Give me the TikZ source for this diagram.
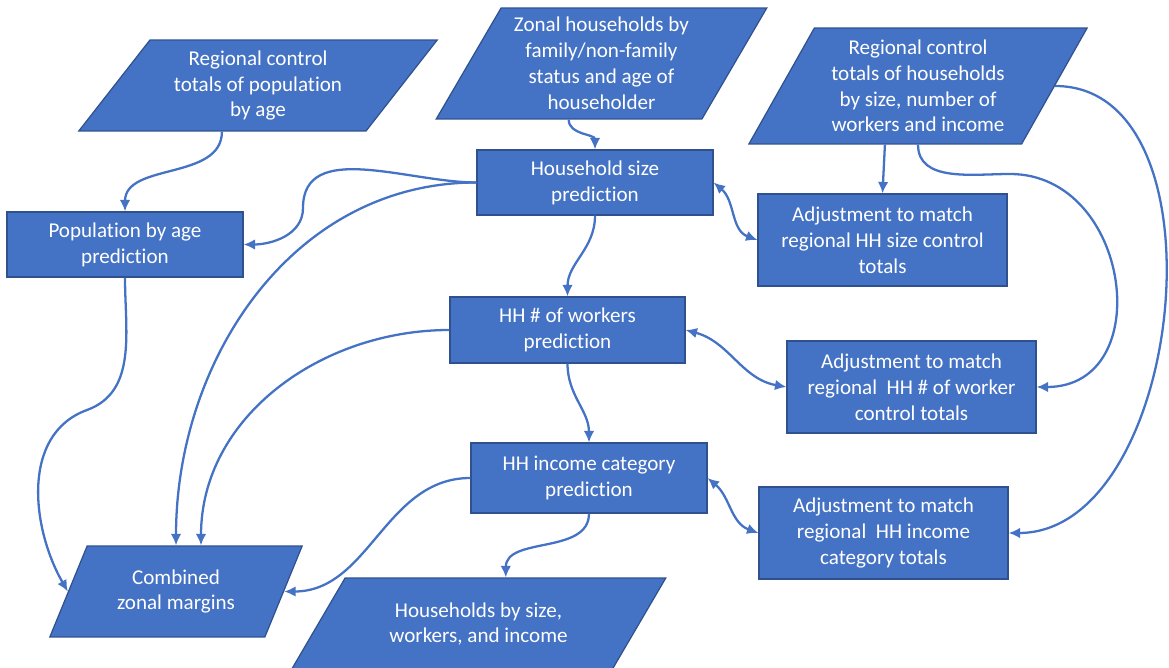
\documentclass[tikz,border=0pt]{standalone}
\usepackage{fontspec}
\setmainfont{Carlito}[Ligatures=NoCommon]
\usepackage{tikz}
\usetikzlibrary{arrows.meta}
\usetikzlibrary{shapes.geometric}
\definecolor{boxblue}{HTML}{4472C4}
\definecolor{rimblue}{HTML}{2F528F}
\tikzset{
	step box/.style={rectangle, draw=rimblue, fill=boxblue, text=white, align=center, inner sep=0pt, line width=0.7pt},
	data box/.style={trapezium, trapezium stretches=true, draw=rimblue, fill=boxblue, text=white, align=center, inner sep=0pt, line width=0.7pt},
	flow/.style={draw=boxblue, line width=1.3pt, ->, >={Latex[length=6.5pt, width=6pt]}},
}
\begin{document}
\begin{tikzpicture}[x=0.02cm, y=-0.02cm, font=\fontsize{12}{14.7}\selectfont]
\useasboundingbox (0, 0) rectangle (1169, 668);
% inputs and outputs
\node[data box, trapezium left angle=51.6, trapezium right angle=128.4, minimum width=7.18cm, minimum height=1.82cm] (regpop) at (258, 85.5) {Regional control\\totals of population\\by age};
\node[data box, trapezium left angle=58.5, trapezium right angle=121.5, minimum width=6.62cm, minimum height=2.22cm] (zonal) at (601.5, 63.5) {Zonal households by\\family/non-family\\status and age of\\householder};
\node[data box, trapezium left angle=59.3, trapezium right angle=120.7, minimum width=6.78cm, minimum height=2.32cm] (reghh) at (918, 86) {Regional control\\totals of households\\by size, number of\\workers and income};
\node[data box, trapezium left angle=60.7, trapezium right angle=119.3, minimum width=5.1cm, minimum height=1.82cm] (comb) at (176, 591.5) {Combined\\zonal margins};
\node[data box, trapezium left angle=50.2, trapezium right angle=129.8, minimum width=7.5cm, minimum height=1.84cm] (hhout) at (478.5, 624) {Households by size,\\workers, and income};
% prediction steps
\node[step box, minimum width=4.72cm, minimum height=1.3cm] (popage) at (125, 244.5) {Population by age\\prediction};
\node[step box, minimum width=4.72cm, minimum height=1.3cm] (hhsize) at (595, 182.5) {Household size\\prediction};
\node[step box, minimum width=4.7cm, minimum height=1.32cm] (hhwork) at (567.5, 330) {HH \# of workers\\prediction};
\node[step box, minimum width=4.72cm, minimum height=1.4cm] (hhinc) at (589, 478) {HH income category\\prediction};
% adjustments
\node[step box, minimum width=4.98cm, minimum height=1.84cm] (adjsize) at (882.5, 240) {Adjustment to match\\regional HH size control\\totals};
\node[step box, minimum width=4.98cm, minimum height=1.84cm] (adjwork) at (911.5, 387) {Adjustment to match\\regional\ \ HH \# of worker\\control totals};
\node[step box, minimum width=4.98cm, minimum height=1.84cm] (adjinc) at (883.5, 533) {Adjustment to match\\regional\ \ HH income\\category totals};
% main chain
\draw[flow] (regpop.bottom side) to[out=-90, in=90] (popage.north);
\draw[flow] (zonal.bottom side) to[out=-90, in=90] (hhsize.north);
\draw[flow] (hhsize.south) to[out=-90, in=90] (hhwork.north);
\draw[flow] (hhwork.south) to[out=-90, in=90] (hhinc.north);
\draw[flow] (hhinc.south) to[out=-90, in=90] (hhout.top side);
% into the zonal margins
\draw[flow] (hhsize.west) to[out=180, in=90] (303, 208) to[out=-90, in=0] (popage.east);
\draw[flow] (hhsize.west) to[out=180, in=90] (comb.north);
\draw[flow] (hhwork.west) to[out=180, in=90] ([xshift=0.5cm]comb.north);
\draw[flow] (hhinc.west) to[out=180, in=0] (comb.east);
\draw[flow] (popage.south) to[out=-90, in=20] (87, 410) to[out=200, in=120] (comb.west);
% regional controls
\draw[flow] (reghh.bottom side) -- (adjsize.north);
\draw[flow] (reghh.south) to[out=-90, in=180] (1010, 174) to[out=0, in=0, looseness=1.45] (adjwork.east);
\draw[flow] (reghh.east) to[out=0, in=0] (adjinc.east);
% adjustments back to the predictions
\draw[flow, <->] (hhsize.east) to[out=-40, in=160] (adjsize.west);
\draw[flow, <->] (hhwork.east) to[out=-15, in=170] (adjwork.west);
\draw[flow, <->] (hhinc.east) to[out=-40, in=160] (adjinc.west);
\end{tikzpicture}
\end{document}
